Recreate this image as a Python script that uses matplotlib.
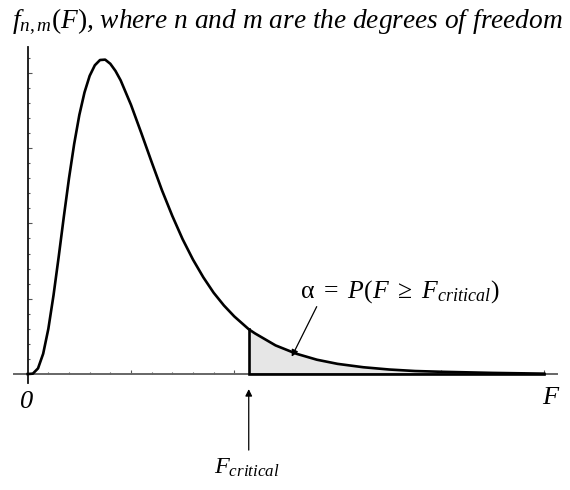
import numpy as np
import matplotlib
matplotlib.use("Agg")
import matplotlib.pyplot as plt
from matplotlib.ticker import FixedLocator

plt.rcParams['font.family'] = ['Liberation Serif', 'DejaVu Serif']
plt.rcParams['mathtext.fontset'] = 'custom'
plt.rcParams['mathtext.rm'] = 'Liberation Serif'
plt.rcParams['mathtext.it'] = 'Liberation Serif:italic'
plt.rcParams['mathtext.bf'] = 'Liberation Serif:bold'

F_vals = [0.0, 0.05, 0.1, 0.15, 0.2, 0.25, 0.3, 0.35, 0.4, 0.45, 0.5, 0.55,
          0.6, 0.65, 0.7, 0.75, 0.8, 0.85, 0.9, 1.0, 1.1, 1.2, 1.3, 1.4, 1.5,
          1.6, 1.7, 1.8, 1.9, 2.0, 2.14, 2.2, 2.4, 2.6, 2.8, 3.0, 3.25, 3.5,
          3.75, 4.0, 4.5, 5.0]
dens = [0.0, 0.001, 0.015, 0.054, 0.120, 0.209, 0.311, 0.418, 0.520, 0.611,
        0.688, 0.748, 0.792, 0.820, 0.834, 0.835, 0.824, 0.805, 0.780, 0.715,
        0.640, 0.563, 0.488, 0.420, 0.358, 0.304, 0.257, 0.216, 0.182, 0.153,
        0.119, 0.108, 0.076, 0.054, 0.038, 0.027, 0.018, 0.012, 0.008, 0.006,
        0.003, 0.001]
f_crit = 2.14
x_max = 5.0

F_vals = np.array(F_vals)
dens = np.array(dens)

fig = plt.figure(figsize=(5.7, 4.9), dpi=100)
ax = fig.add_axes([0, 0, 1, 1])
ax.set_xlim(-0.268, 5.250)
ax.set_ylim(-0.308, 0.9934)
ax.patch.set_alpha(0)

# axes crossing at the origin
for side in ['top', 'right']:
    ax.spines[side].set_visible(False)
ax.spines['left'].set_position(('data', 0))
ax.spines['bottom'].set_position(('data', 0))
ax.spines['left'].set_bounds(-0.024, 0.8685)
ax.spines['bottom'].set_bounds(-0.133, 5.12)
ax.spines['left'].set_color('#111111')
ax.spines['left'].set_linewidth(1.3)
ax.spines['bottom'].set_color('#666666')
ax.spines['bottom'].set_linewidth(1.4)

ax.xaxis.set_major_locator(FixedLocator(np.arange(1, 6)))
ax.xaxis.set_minor_locator(FixedLocator(np.arange(0.2, 5.0, 0.2)))
ax.yaxis.set_major_locator(FixedLocator([0.2, 0.4, 0.6, 0.8]))
ax.yaxis.set_minor_locator(FixedLocator(np.arange(0.04, 0.85, 0.04)))
ax.tick_params(which='both', direction='in', color='#555555', width=0.8,
               labelbottom=False, labelleft=False)
ax.tick_params(which='major', length=3.0)
ax.tick_params(which='minor', length=1.6)

# shaded tail beyond the critical value
tail = F_vals >= f_crit
ax.fill_between(F_vals[tail], 0, dens[tail], color='#e6e6e6', lw=0, zorder=2)
crit_y = dens[F_vals == f_crit][0]
ax.plot([f_crit, f_crit, x_max], [crit_y, 0, 0], color='black', lw=1.9,
        solid_joinstyle='miter', zorder=3)
ax.plot(F_vals, dens, color='black', lw=1.9, zorder=4)

# labels
fig.text(12 / 570, 1 - 28 / 490,
         r"$\mathit{f_{n,m}(F)}$, where n and m are the degrees of freedom",
         fontsize=19.7, style='italic', ha='left', va='baseline')
ax.text(-0.007, -0.09, "0", fontsize=19, style='italic', ha='center',
        va='baseline')
ax.text(5.056, -0.08, "F", fontsize=19, style='italic', ha='center',
        va='baseline')

ax.text(2.636, 0.202, r"$\mathrm{\alpha}\ =\ P(F\ \geq\ F_{critical})$",
        fontsize=18.5, ha='left', va='baseline')
ax.annotate("", xy=(2.556, 0.046), xytext=(2.798, 0.179),
            arrowprops=dict(arrowstyle='-|>', color='black', lw=0.9,
                            mutation_scale=10, shrinkA=0, shrinkB=0),
            zorder=5)

ax.annotate("", xy=(f_crit, -0.040), xytext=(f_crit, -0.202),
            arrowprops=dict(arrowstyle='-|>', color='black', lw=0.9,
                            mutation_scale=10, shrinkA=0, shrinkB=0))
ax.text(2.123, -0.266, r"$F_{critical}$", fontsize=17.5, ha='center',
        va='baseline')

fig.savefig("out.png", dpi=100)
